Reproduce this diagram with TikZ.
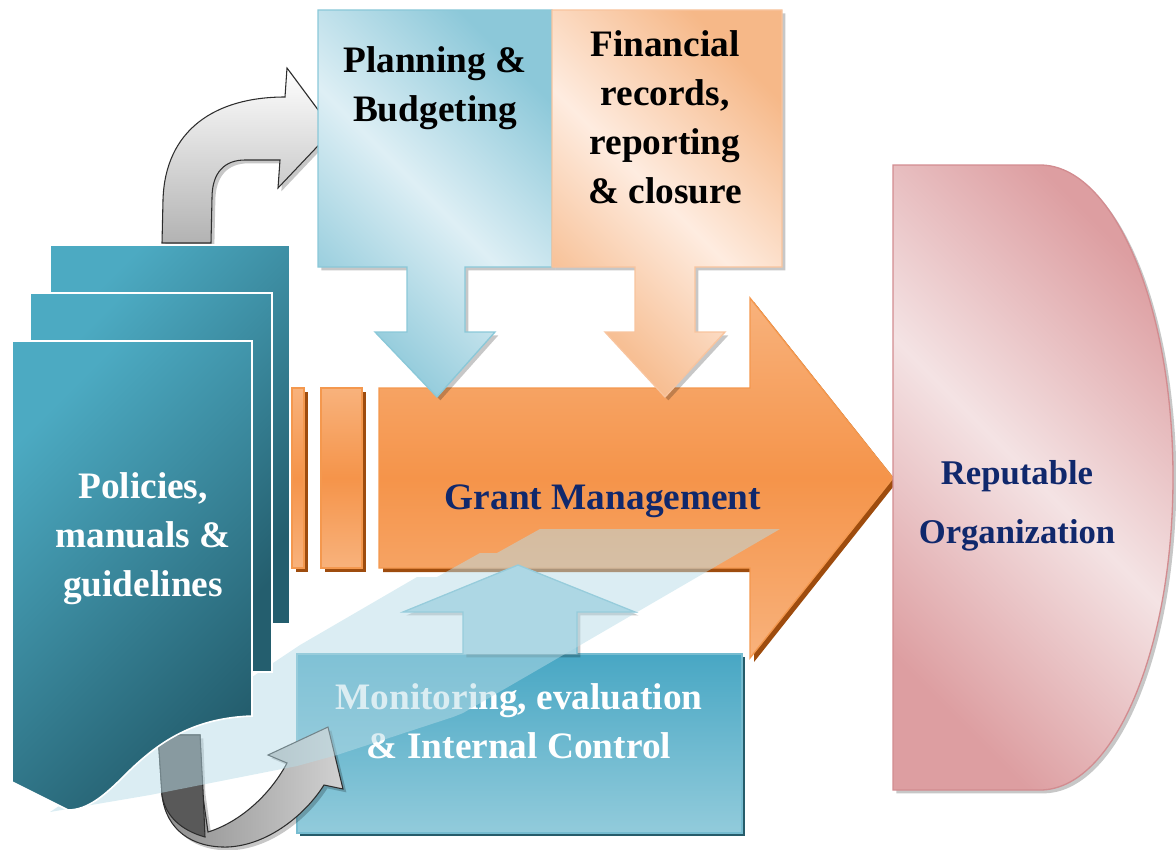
\documentclass[tikz,border=0pt]{standalone}
\usepackage{fontspec}
\setmainfont{Liberation Serif}

\definecolor{navy}{RGB}{16,40,108}
\definecolor{orangelight}{RGB}{248,178,124}
\definecolor{orangemid}{RGB}{245,148,74}
\definecolor{orangeline}{RGB}{244,152,78}
\definecolor{orangedark}{RGB}{158,76,14}
\definecolor{tealtop}{RGB}{76,170,194}
\definecolor{tealbottom}{RGB}{36,94,110}
\definecolor{tealdark}{RGB}{38,92,106}
\definecolor{skylight}{RGB}{222,239,245}
\definecolor{skydark}{RGB}{140,200,217}
\definecolor{skyline}{RGB}{138,200,216}
\definecolor{peachlight}{RGB}{254,236,224}
\definecolor{peachdark}{RGB}{246,184,136}
\definecolor{peachline}{RGB}{248,196,158}
\definecolor{roselight}{RGB}{244,227,228}
\definecolor{rosedark}{RGB}{221,158,161}
\definecolor{roseline}{RGB}{210,140,144}
\definecolor{montop}{RGB}{72,167,196}
\definecolor{monbottom}{RGB}{146,203,219}
\definecolor{monline}{RGB}{118,188,208}
\definecolor{monarrow}{RGB}{163,211,226}
\definecolor{bandblue}{RGB}{184,220,231}

\begin{document}
\begin{tikzpicture}[x=0.75pt,y=-0.75pt,
        lbl/.style={font=\fontsize{28}{36.75}\selectfont\bfseries, align=center, inner sep=0pt},
        dropgray/.style={preaction={fill=black, fill opacity=0.22, transform canvas={xshift=2.5pt,yshift=-2.5pt}}},
        droporange/.style={preaction={fill=orangedark, transform canvas={xshift=3pt,yshift=-3pt}}},
        dropteal/.style={preaction={fill=tealdark, transform canvas={xshift=2.5pt,yshift=-2.5pt}}},
        orangebar/.style={droporange, draw=orangeline, line width=1pt, top color=orangelight, bottom color=orangelight, middle color=orangemid},
        page/.style={draw=white, line width=1.2pt, top color=tealtop, bottom color=tealbottom, shading angle=45},
        diag/.style 2 args={top color=#2, bottom color=#2, middle color=#1, shading angle=-45},
        ribbon/.style={draw=gray!35!black, line width=0.8pt}]
    \useasboundingbox (0,0) rectangle (1176,849);

    % curved arrow from the documents up to planning
    \draw[ribbon, dropgray, top color=white, bottom color=gray!60]
        (162,243) -- (163,200) .. controls (165,130) and (215,97) .. (285,97)
        -- (287,68) -- (333,130) -- (278,188) -- (280,160) -- (245,160)
        .. controls (225,160) and (212,172) .. (212,198) -- (211,243) -- cycle;

    % grant management arrow with its two bars
    \draw[orangebar] (292,388) rectangle (304,568);
    \draw[orangebar] (321,388) rectangle (362,568);
    \draw[orangebar] (379,388) -- (750,388) -- (750,298) -- (893,478)
        -- (750,658) -- (750,568) -- (379,568) -- cycle;
    \node[lbl, text=navy] (grant) at (603,501) {Grant Management};

    % top boxes pointing down
    \draw[dropgray, draw=skyline, line width=1pt, diag={skylight}{skydark}]
        (318,10) -- (552,10) -- (552,267) -- (465,267) -- (465,332) -- (495,332)
        -- (437,397) -- (375,332) -- (407,332) -- (407,267) -- (318,267) -- cycle;
    \draw[dropgray, draw=peachline, line width=1pt, diag={peachlight}{peachdark}]
        (552,10) -- (782,10) -- (782,267) -- (695,267) -- (695,332) -- (725,332)
        -- (665,397) -- (605,332) -- (635,332) -- (635,267) -- (552,267) -- cycle;
    \node[lbl] (planning) at (435,88) {Planning \&\\Budgeting};
    \node[lbl] (financial) at (665,117) {Financial\\records,\\reporting\\\& closure};

    % monitoring box with the arrow going up
    \draw[dropteal, draw=monline, line width=1pt, top color=montop, bottom color=monbottom]
        (297,654) rectangle (742,833);
    \draw[dropgray, draw=monline, line width=1pt, fill=monarrow]
        (463,654) -- (463,612) -- (403,612) -- (518,565) -- (635,612) -- (577,612) -- (577,654);
    \node[lbl, text=white] (monitoring) at (519,721) {Monitoring, evaluation\\\& Internal Control};

    % curved arrow from the documents to monitoring
    \draw[ribbon, dropgray, left color=black!45, right color=black!18]
        (158,735) -- (162,795) .. controls (166,830) and (192,848) .. (228,847)
        .. controls (268,845) and (305,815) .. (324,785) -- (343,789) -- (328,727)
        -- (268,755) -- (287,763) .. controls (270,795) and (240,822) .. (208,832)
        -- (202,790) -- (200,735) -- cycle;
    \draw[ribbon, fill=black!65]
        (158,735) -- (162,795) .. controls (165,815) and (180,830) .. (205,837)
        -- (203,790) -- (200,735) -- cycle;

    % light beam over the lower part
    \fill[bandblue, fill opacity=0.5] (780,529) -- (540,529) -- (497,553) -- (480,553)
        -- (437,577) -- (417,577) -- (300,645) -- (50,812) -- (150,795) -- (297,766)
        -- (337,755) -- (453,717) -- (463,713) -- (577,647) -- cycle;

    % stack of documents
    \draw[page] (50,245) rectangle (290,624);
    \draw[page] (30,293) rectangle (272,672);
    \draw[page] (12,341) -- (252,341) -- (252,716) .. controls (195,718) and (160,740) .. (125,775)
        .. controls (105,795) and (88,810) .. (68,810) -- (12,782) -- cycle;
    \node[lbl, text=white] (policies) at (143,539) {Policies,\\manuals \&\\guidelines};

    % the organization at the end
    \draw[dropgray, draw=roseline, line width=1pt, diag={roselight}{rosedark}]
        (893,165) -- (1040,165) arc[start angle=-90, end angle=90, x radius=133, y radius=312.5]
        -- (893,790) -- cycle;
    \node[lbl, font=\fontsize{26}{44}\selectfont\bfseries, text=navy] (reputable) at (1017,506) {Reputable\\Organization};
\end{tikzpicture}
\end{document}
